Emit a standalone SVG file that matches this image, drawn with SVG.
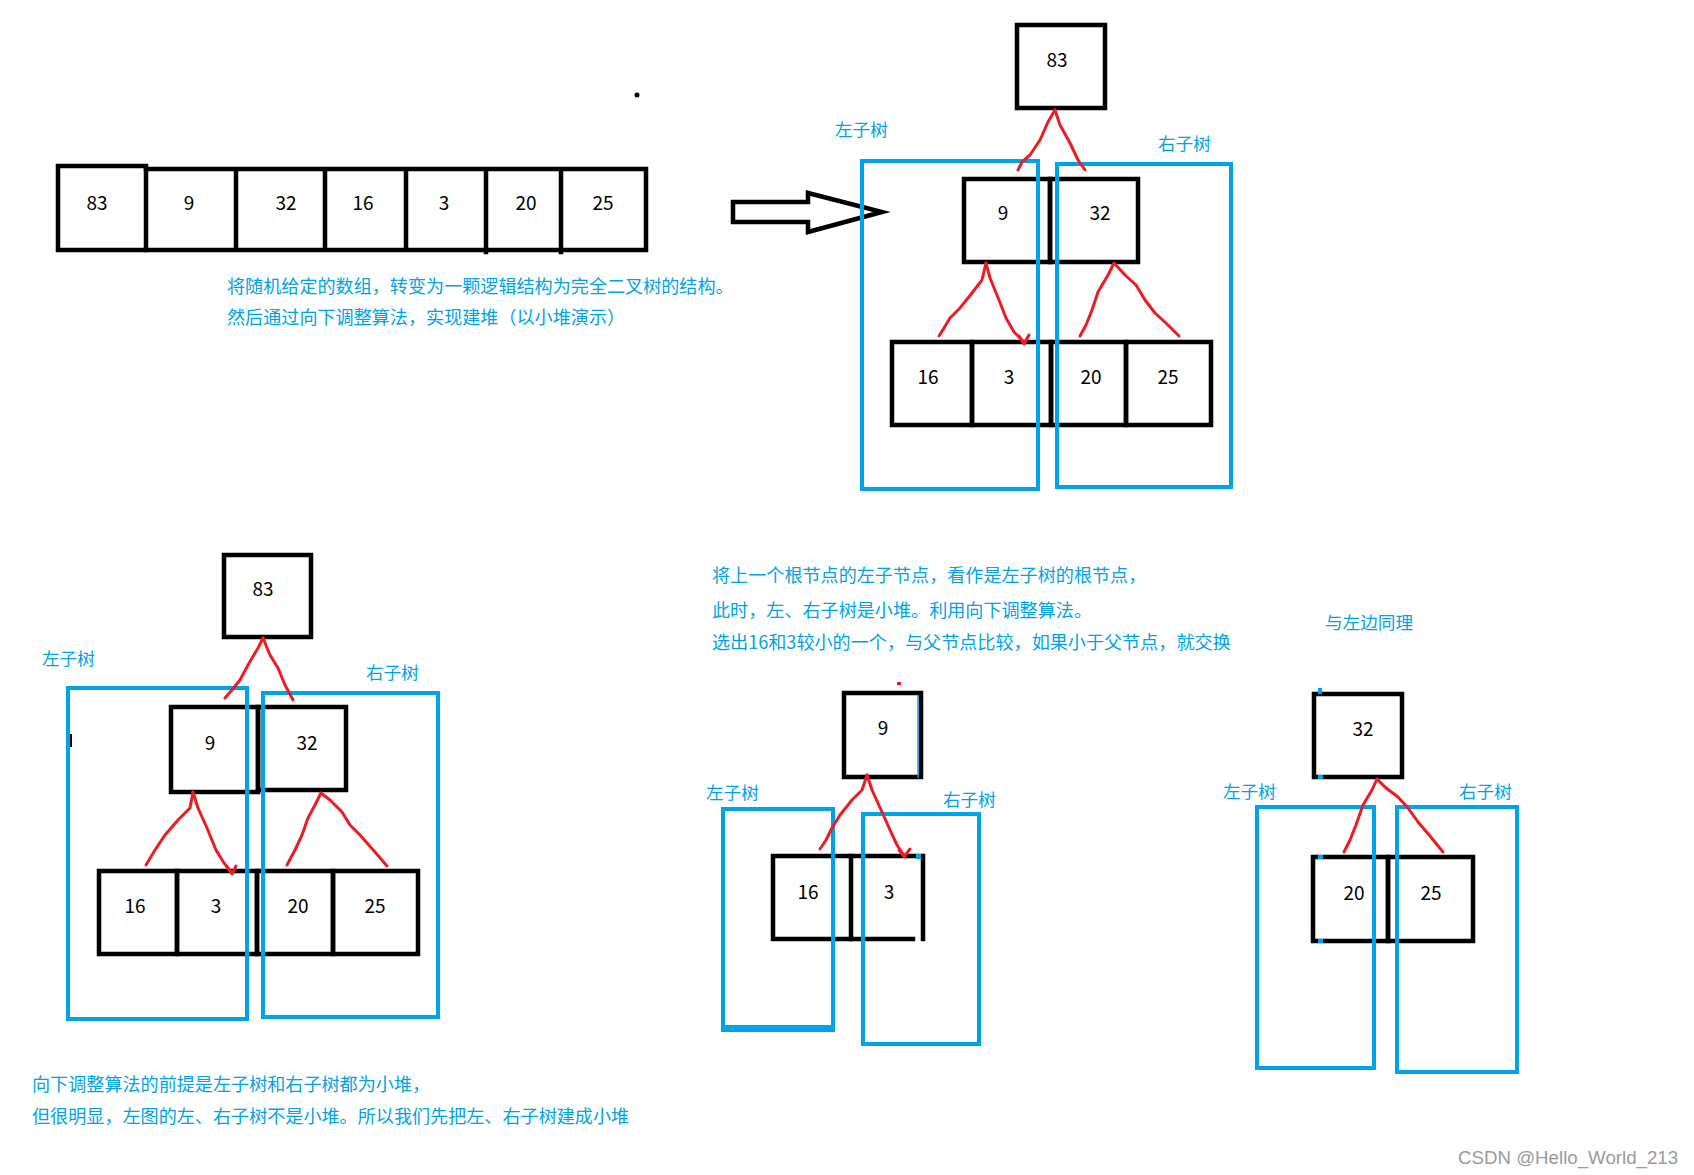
<svg xmlns="http://www.w3.org/2000/svg" width="1694" height="1175" viewBox="0 0 1694 1175">
<style>
.bk{fill:none;stroke:#000;stroke-width:4.5;stroke-linecap:square}
.bl{fill:none;stroke:#00a2e8;stroke-width:4}
.rd{fill:none;stroke:#ed1c24;stroke-width:3;stroke-linecap:round;stroke-linejoin:round}
.num{font-family:"Noto Sans CJK SC","Noto Sans",sans-serif;font-size:19px;fill:#000;text-anchor:middle}
.cn{font-family:"Noto Sans CJK SC","Noto Sans CJK JP",sans-serif;font-size:17.6px;fill:#00a2e8}
.p{font-family:"Noto Sans CJK SC","Noto Sans CJK JP",sans-serif;font-size:18.1px;fill:#00a2e8}
.wm{font-family:"Liberation Sans",Arial,sans-serif;font-size:18.7px;fill:#9a9a9a}
</style>
<rect width="1694" height="1175" fill="#fff"/>

<!-- Array -->
<g id="array">
<rect class="bk" x="58" y="166" width="88" height="84"/>
<path class="bk" d="M146,169 H646 V250 H146 M236,169 V250 M325,169 V250 M406,169 V250 M486,169 V252 M561,169 V252"/>
<text class="num" x="97" y="210">83</text>
<text class="num" x="189" y="210">9</text>
<text class="num" x="286" y="210">32</text>
<text class="num" x="363" y="210">16</text>
<text class="num" x="444" y="210">3</text>
<text class="num" x="526" y="210">20</text>
<text class="num" x="603" y="210">25</text>
</g>
<circle cx="637" cy="95" r="2.5" fill="#000"/>
<g id="big-arrow">
<polygon class="bk" style="stroke-linejoin:miter" points="733,202 808,202 808,193 882,212 808,232 808,222 733,222"/>
</g>
<text class="p" x="227" y="293">将随机给定的数组，转变为一颗逻辑结构为完全二叉树的结构。</text>
<text class="p" x="227" y="324">然后通过向下调整算法，实现建堆（以小堆演示）</text>

<!-- Top tree -->
<g id="t1-n83"><rect class="bk" x="1017" y="25" width="88" height="83"/><text class="num" x="1057" y="67">83</text></g>
<g id="t1-n9"><rect class="bk" x="964" y="179" width="86" height="83"/><text class="num" x="1003" y="220">9</text></g>
<g id="t1-n32"><rect class="bk" x="1050" y="179" width="88" height="83"/><text class="num" x="1100" y="220">32</text></g>
<g id="t1-n16"><rect class="bk" x="892" y="342" width="80" height="83"/><text class="num" x="928" y="384">16</text></g>
<g id="t1-n3"><rect class="bk" x="972" y="342" width="79" height="83"/><text class="num" x="1009" y="384">3</text></g>
<g id="t1-n20"><rect class="bk" x="1051" y="342" width="75" height="83"/><text class="num" x="1091" y="384">20</text></g>
<g id="t1-n25"><rect class="bk" x="1126" y="342" width="85" height="83"/><text class="num" x="1168" y="384">25</text></g>
<g id="t1-left"><rect class="bl" x="862" y="161" width="176" height="328"/><text class="cn" x="835" y="136">左子树</text></g>
<g id="t1-right"><rect class="bl" x="1057" y="164" width="174" height="323"/><text class="cn" x="1158" y="150">右子树</text></g>

<!-- Bottom-left tree -->
<g id="t2-n83"><rect class="bk" x="224" y="555" width="87" height="82"/><text class="num" x="263" y="596">83</text></g>
<g id="t2-n9"><rect class="bk" x="171" y="707" width="87" height="85"/><text class="num" x="210" y="750">9</text></g>
<g id="t2-n32"><rect class="bk" x="258" y="707" width="88" height="83"/><text class="num" x="307" y="750">32</text></g>
<g id="t2-n16"><rect class="bk" x="99" y="871" width="78" height="83"/><text class="num" x="135" y="913">16</text></g>
<g id="t2-n3"><rect class="bk" x="177" y="871" width="80" height="83"/><text class="num" x="216" y="913">3</text></g>
<g id="t2-n20"><rect class="bk" x="257" y="871" width="76" height="83"/><text class="num" x="298" y="913">20</text></g>
<g id="t2-n25"><rect class="bk" x="333" y="871" width="85" height="83"/><text class="num" x="375" y="913">25</text></g>
<path d="M68,734 h4 v13 h-4 z" fill="#000"/>
<g id="t2-left"><rect class="bl" x="68" y="688" width="179" height="331"/><text class="cn" x="42" y="665">左子树</text></g>
<g id="t2-right"><rect class="bl" x="263" y="693" width="175" height="324"/><text class="cn" x="366" y="679">右子树</text></g>

<!-- Middle text -->
<text class="p" x="712" y="582">将上一个根节点的左子节点，看作是左子树的根节点，</text>
<text class="p" x="712" y="617">此时，左、右子树是小堆。利用向下调整算法。</text>
<text class="p" x="712" y="649">选出16和3较小的一个，与父节点比较，如果小于父节点，就交换</text>
<text class="cn" x="1325" y="629">与左边同理</text>

<!-- Middle tree -->
<g id="t3-n9"><rect class="bk" x="844" y="693" width="77" height="84"/><line x1="918" y1="695" x2="918" y2="778" stroke="#00a2e8" stroke-width="1.5"/><text class="num" x="883" y="735">9</text></g>
<g id="t3-n16"><path class="bk" d="M851,856 H773 V939 H851 Z"/><text class="num" x="808" y="899">16</text></g>
<g id="t3-n3"><path class="bk" d="M851,856 H923 V939 M851,939 H913"/><rect x="916" y="854" width="5" height="5" fill="#00a2e8"/><text class="num" x="889" y="899">3</text></g>
<g id="t3-left"><rect class="bl" x="723" y="809" width="110" height="218"/><line x1="721" y1="1030" x2="835" y2="1030" stroke="#00a2e8" stroke-width="4"/><text class="cn" x="706" y="799">左子树</text></g>
<g id="t3-right"><rect class="bl" x="863" y="814" width="116" height="230"/><text class="cn" x="943" y="806">右子树</text></g>

<!-- Right tree -->
<g id="t4-n32"><rect class="bk" x="1314" y="694" width="88" height="83"/><text class="num" x="1363" y="736">32</text></g>
<g id="t4-n20"><rect class="bk" x="1313" y="857" width="75" height="84"/><text class="num" x="1354" y="900">20</text></g>
<g id="t4-n25"><rect class="bk" x="1388" y="857" width="85" height="84"/><text class="num" x="1431" y="900">25</text></g>
<g fill="#00a2e8"><rect x="1318" y="688" width="4" height="6"/><rect x="1318" y="775" width="5" height="4"/><rect x="1318" y="805" width="5" height="4"/><rect x="1318" y="855" width="5" height="4"/><rect x="1318" y="939" width="5" height="4"/></g>
<g id="t4-left"><rect class="bl" x="1257" y="807" width="117" height="261"/><text class="cn" x="1223" y="798">左子树</text></g>
<g id="t4-right"><rect class="bl" x="1397" y="807" width="120" height="265"/><text class="cn" x="1459" y="798">右子树</text></g>

<!-- Connectors -->
<g id="connectors">
<polyline class="rd" points="1055,110 1048,122 1040,140 1030,155 1022,162 1018,170"/>
<polyline class="rd" points="1055,110 1060,125 1070,143 1078,160 1085,170"/>
<polyline class="rd" points="986,263 982,280 972,293 960,308 950,318 944,328 939,336"/>
<polyline class="rd" points="986,263 990,278 999,300 1006,318 1014,332 1025,343"/>
<polyline class="rd" points="1019,336 1024,344 1029,335"/>
<polyline class="rd" points="1114,263 1108,275 1098,292 1092,310 1086,325 1080,336"/>
<polyline class="rd" points="1114,263 1125,275 1136,285 1145,300 1155,313 1168,325 1179,336"/>

<polyline class="rd" points="263,638 258,648 248,665 240,680 232,690 225,698"/>
<polyline class="rd" points="263,638 270,655 278,668 285,685 293,700"/>
<polyline class="rd" points="193,792 190,808 178,820 165,835 155,850 146,865"/>
<polyline class="rd" points="193,792 198,808 207,828 216,850 224,863 232,873"/>
<polyline class="rd" points="227,867 232,874 236,866"/>
<polyline class="rd" points="321,793 315,805 308,818 302,835 295,850 287,865"/>
<polyline class="rd" points="321,793 330,800 342,812 350,825 360,835 375,852 387,866"/>

<polyline class="rd" points="867,775 862,790 852,800 840,815 832,828 826,840 820,849"/>
<polyline class="rd" points="867,775 872,790 882,812 890,830 897,845 905,857"/>
<polyline class="rd" points="899,850 904,857 910,849"/>
<rect x="897" y="682" width="4" height="3" fill="#ed1c24"/>

<polyline class="rd" points="1377,779 1372,790 1363,805 1356,825 1350,840 1344,852"/>
<polyline class="rd" points="1377,779 1386,788 1398,797 1408,808 1418,822 1430,836 1443,852"/>
</g>

<!-- Bottom text -->
<text class="p" x="32" y="1091">向下调整算法的前提是左子树和右子树都为小堆，</text>
<text class="p" x="32" y="1123">但很明显，左图的左、右子树不是小堆。所以我们先把左、右子树建成小堆</text>

<text class="wm" x="1458" y="1164">CSDN @Hello_World_213</text>
</svg>
